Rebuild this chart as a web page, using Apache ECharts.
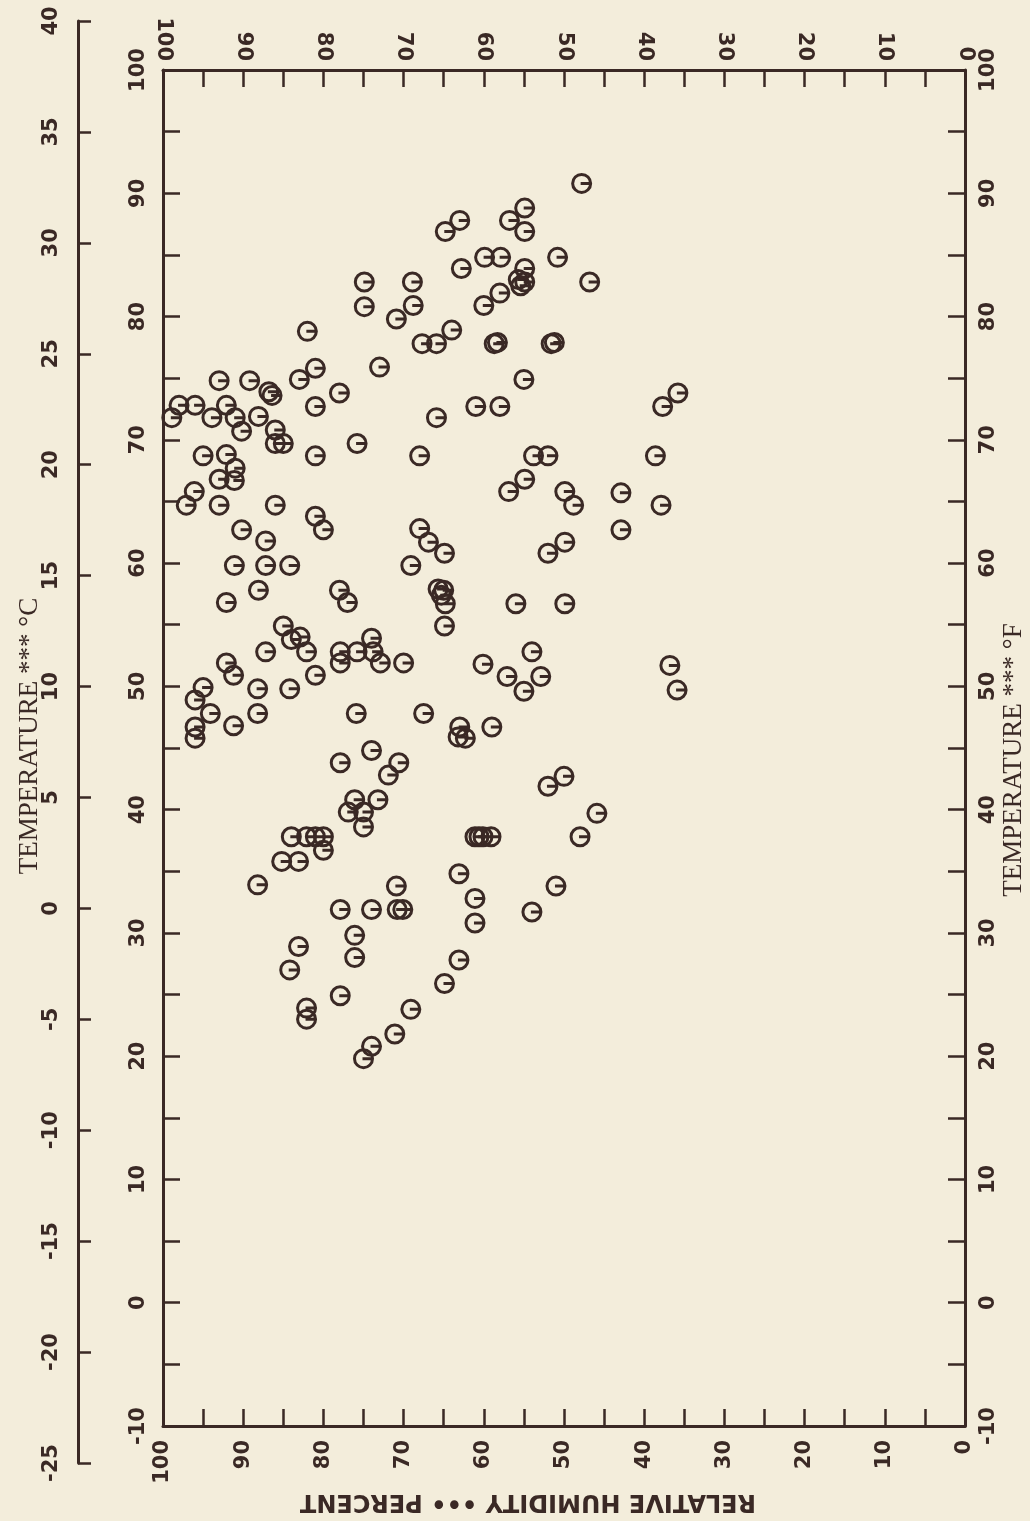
<!DOCTYPE html>
<html>
<head>
<meta charset="utf-8">
<script src="https://cdn.jsdelivr.net/npm/echarts@6/dist/echarts.min.js"></script>
<style>
html,body{margin:0;padding:0;background:#f3eddb;}
#chart{width:1030px;height:1521px;}
</style>
</head>
<body>
<div id="chart"></div>
<script>
// Relative humidity (percent) of each observation
var humidity = [
74.9,74.9,68.9,68.8,70.9,67.7,82.0,81.0,83.0,73.0,93.0,89.2,86.8,86.4,78.0,
47.8,63.0,64.8,54.9,56.8,54.9,59.9,57.9,50.8,62.8,54.9,55.7,54.9,55.4,46.8,
58.0,60.0,64.0,65.9,58.7,58.3,51.6,51.2,55.0,
98.9,98.0,96.0,93.9,92.1,91.0,90.2,88.1,86.0,86.0,85.0,81.0,75.8,81.0,95.0,
92.1,91.0,93.0,91.1,96.1,97.1,93.0,86.0,81.0,80.0,90.2,87.2,91.1,87.2,84.2,
88.1,78.0,77.0,92.1,
65.9,61.0,58.0,37.7,35.8,68.0,53.8,52.0,38.6,54.9,56.9,49.9,48.8,42.9,42.9,
37.9,68.0,66.9,64.9,69.1,49.9,52.0,65.7,65.0,65.3,64.8,56.0,49.9,
64.9,85.0,84.0,82.9,82.1,87.2,92.1,91.2,81.0,77.9,77.9,75.8,74.0,73.8,72.9,
70.0,95.0,96.0,94.1,96.0,96.0,91.2,88.2,88.2,84.2,75.9,67.5,77.9,74.0,70.6,
71.9,76.1,73.2,76.9,75.0,75.0,84.0,82.1,81.0,80.0,80.0,
60.1,54.0,57.1,55.0,52.9,63.0,62.3,63.2,59.0,50.0,52.0,45.9,48.0,61.1,60.6,
60.1,59.1,
85.2,83.1,88.2,77.9,74.0,70.9,70.8,70.1,76.1,76.1,83.1,84.2,77.9,82.1,82.1,
69.1,71.1,74.0,75.0,
63.1,61.1,61.1,51.0,54.0,63.1,64.9,36.8,35.9
];
// Temperature (deg F) of each observation, same order
var temperatureF = [
82.8,80.8,82.8,80.9,79.8,77.8,78.8,75.8,74.9,75.9,74.8,74.8,73.9,73.6,73.8,
90.8,87.8,86.9,88.8,87.8,86.9,84.8,84.8,84.8,83.9,83.9,83.0,82.8,82.5,82.8,
81.9,80.9,78.9,77.8,77.8,77.9,77.8,77.9,74.9,
71.8,72.8,72.8,71.8,72.8,71.8,70.7,71.9,70.8,69.7,69.7,72.7,69.7,68.7,68.7,
68.8,67.7,66.8,66.7,65.8,64.7,64.7,64.7,63.8,62.7,62.7,61.8,59.8,59.8,59.8,
57.8,57.8,56.8,56.8,
71.8,72.7,72.7,72.7,73.8,68.7,68.7,68.7,68.7,66.8,65.8,65.8,64.7,65.7,62.7,
64.7,62.8,61.7,60.8,59.8,61.7,60.8,57.9,57.8,57.4,56.7,56.7,56.7,
54.9,54.9,53.8,54.0,52.8,52.8,51.9,50.9,50.9,52.8,51.9,52.8,53.9,52.8,51.9,
51.9,49.9,48.9,47.8,46.7,45.8,46.8,49.8,47.8,49.8,47.8,47.8,43.8,44.8,43.8,
42.8,40.8,40.8,39.8,39.8,38.6,37.8,37.8,37.8,37.8,36.7,
51.8,52.8,50.8,49.6,50.8,46.7,45.8,45.9,46.7,42.7,41.9,39.7,37.8,37.8,37.8,
37.8,37.8,
35.8,35.8,33.9,31.9,31.9,33.8,31.9,31.9,29.8,28.0,28.9,27.0,24.9,23.9,23.0,
23.8,21.8,20.8,19.8,
34.8,32.8,30.8,33.8,31.7,27.8,25.9,51.7,49.7
];

var humidityRange = [0, 100];
var fahrenheitRange = [-10, 100];
var celsiusRange = [-25, 40];

var INK = '#3a2925';
var points = humidity.map(function (h, i) { return [h, temperatureF[i]]; });

var labelStyle = {
  color: INK, fontFamily: 'DejaVu Sans', fontWeight: 'bold', fontSize: 21, rotate: 90
};
function every10(v) { return (Math.round(v) % 10 === 0) ? String(v) : ''; }

function mainAxis(extra) {
  var base = {
    type: 'value', gridIndex: 0, interval: 5,
    axisLine: { show: true, onZero: false, lineStyle: { color: INK, width: 3 } },
    axisTick: { show: true, inside: true, length: 17, lineStyle: { color: INK, width: 2.5 } },
    splitLine: { show: false },
    axisLabel: Object.assign({}, labelStyle, { formatter: every10 })
  };
  return Object.assign(base, extra, {
    axisLabel: Object.assign({}, base.axisLabel, extra.axisLabel || {})
  });
}

var chart = echarts.init(document.getElementById('chart'), null, { renderer: 'canvas' });
chart.setOption({
  animation: false,
  backgroundColor: '#f3eddb',
  grid: [
    { left: 163, right: 65, top: 70, bottom: 95 },
    { left: 78, width: 10, top: 21, bottom: 58 }
  ],
  xAxis: [
    mainAxis({ position: 'bottom', min: humidityRange[0], max: humidityRange[1], inverse: true, axisLabel: { margin: 14 } }),
    mainAxis({ position: 'top', min: humidityRange[0], max: humidityRange[1], inverse: true, axisLabel: { margin: 9 } }),
    { type: 'value', gridIndex: 1, show: false, min: 0, max: 1 }
  ],
  yAxis: [
    mainAxis({ position: 'left', min: fahrenheitRange[0], max: fahrenheitRange[1], axisLabel: { margin: 14 } }),
    mainAxis({ position: 'right', min: fahrenheitRange[0], max: fahrenheitRange[1], axisLabel: { margin: 13 } }),
    {
      type: 'value', gridIndex: 1, position: 'left',
      min: celsiusRange[0], max: celsiusRange[1], interval: 5,
      axisLine: { show: true, onZero: false, lineStyle: { color: INK, width: 3 } },
      axisTick: { show: true, inside: true, length: 13, lineStyle: { color: INK, width: 2.5 } },
      splitLine: { show: false },
      axisLabel: Object.assign({}, labelStyle, { margin: 16 })
    }
  ],
  graphic: [
    { type: 'text', x: 30, y: 736,
      style: { text: 'TEMPERATURE *** °C', fill: INK, font: '27px "Liberation Serif"', textAlign: 'center', textVerticalAlign: 'middle' },
      rotation: Math.PI / 2 },
    { type: 'text', x: 1014, y: 760,
      style: { text: 'TEMPERATURE *** °F', fill: INK, font: '27px "Liberation Serif"', textAlign: 'center', textVerticalAlign: 'middle' },
      rotation: Math.PI / 2 },
    { type: 'text', x: 528, y: 1501,
      style: { text: 'RELATIVE HUMIDITY ••• PERCENT', fill: INK, font: 'bold 24px "DejaVu Sans"', textAlign: 'center', textVerticalAlign: 'middle' },
      rotation: Math.PI }
  ],
  series: [{
    type: 'scatter', xAxisIndex: 0, yAxisIndex: 0,
    data: points,
    symbol: 'path://M1,10 A9,9 0 1,0 19,10 A9,9 0 1,0 1,10 Z M9,10 L19,10',
    symbolSize: 18,
    symbolKeepAspect: true,
    silent: true,
    itemStyle: { color: 'rgba(0,0,0,0)', borderColor: INK, borderWidth: 3, opacity: 1 }
  }]
});
</script>
</body>
</html>
